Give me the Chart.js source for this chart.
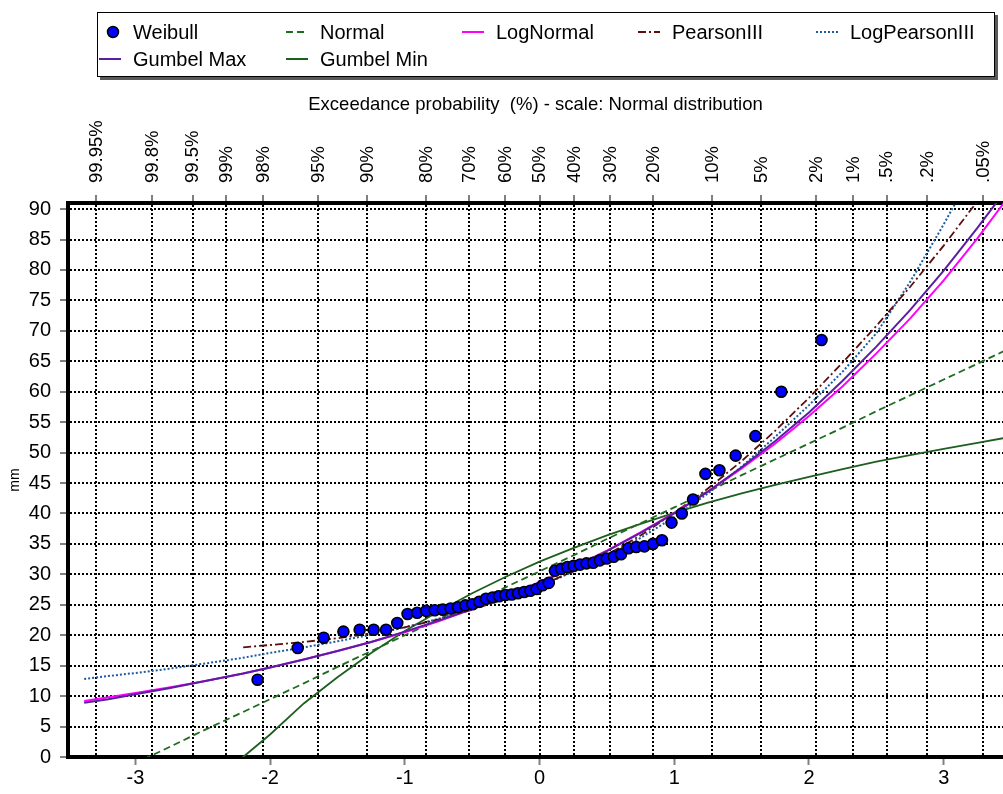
<!DOCTYPE html>
<html>
<head>
<meta charset="utf-8">
<script src="https://cdn.jsdelivr.net/npm/chart.js@4.4.0/dist/chart.umd.min.js"></script>
<style>
  html, body { margin: 0; padding: 0; background: #fff; }
  #chart { display: block; }
</style>
</head>
<body>
<canvas id="chart" width="1003" height="794"></canvas>
<script>
// observed values (mm), sorted; plotted at Weibull positions i/(n+1)
const weibullMm = [
  12.7, 17.9, 19.6, 20.6, 20.9, 20.9, 20.9, 22.0, 23.5, 23.7,
  24.0, 24.1, 24.2, 24.4, 24.6, 24.9, 25.1, 25.5, 26.0, 26.2,
  26.4, 26.6, 26.7, 26.9, 27.1, 27.3, 27.6, 28.2, 28.6, 30.6,
  30.9, 31.2, 31.4, 31.6, 31.8, 31.9, 32.3, 32.6, 32.9, 33.3,
  34.3, 34.5, 34.6, 35.0, 35.6, 38.5, 40.0, 42.3, 46.5, 47.1,
  49.5, 52.7, 60.0, 68.5
];

// fitted curves at these standard normal quantiles
const curveZ = [-3.38, -3.2, -3.0, -2.75, -2.5, -2.2, -2.0, -1.75, -1.5, -1.25, -1.0, -0.75, -0.5, -0.25,
  0, 0.25, 0.5, 0.75, 1.0, 1.25, 1.5, 1.75, 2.0, 2.25, 2.5, 2.75, 3.0, 3.25, 3.45];
const normalMm = [-5.0, -3.1, -1.0, 1.6, 4.3, 7.4, 9.5, 12.1, 14.8, 17.4, 20.0, 22.6, 25.3, 27.9,
  30.5, 33.1, 35.8, 38.4, 41.0, 43.6, 46.3, 48.9, 51.5, 54.1, 56.8, 59.4, 62.0, 64.6, 66.7];
const logNormalMm = [9.2, 9.8, 10.5, 11.4, 12.4, 13.7, 14.7, 16.0, 17.4, 18.9, 20.5, 22.3, 24.3, 26.4,
  28.7, 31.2, 33.9, 36.9, 40.1, 43.6, 47.4, 51.5, 56.0, 60.9, 66.3, 72.0, 78.3, 85.2, 91.1];
const pearson3Mm = [null, null, null, null, null, 18.0, 18.4, 18.9, 19.5, 20.3, 21.3, 22.6, 24.2, 26.0,
  28.1, 30.5, 33.2, 36.4, 40.1, 44.1, 48.6, 53.6, 59.0, 64.8, 70.8, 77.2, 84.0, 91.3, 97.5];
const logPearson3Mm = [12.8, 13.3, 13.8, 14.5, 15.3, 16.3, 17.1, 18.0, 19.0, 20.1, 21.3, 22.7, 24.3, 26.1,
  28.1, 30.4, 33.0, 36.0, 39.4, 43.3, 47.7, 52.6, 57.8, 63.3, 69.6, 78.0, 87.5, 97.5, 106.0];
const gumbelMaxMm = [8.9, 9.5, 10.3, 11.3, 12.4, 13.7, 14.7, 16.0, 17.4, 18.9, 20.6, 22.4, 24.3, 26.4,
  28.6, 31.1, 33.8, 36.8, 40.0, 43.6, 47.6, 51.9, 56.6, 61.8, 67.4, 73.4, 79.9, 86.9, 92.8];
const gumbelMinMm = [null, null, null, null, -6.6, 0.0, 3.7, 8.8, 13.1, 17.1, 20.7, 23.9, 26.9, 29.6,
  32.1, 34.3, 36.4, 38.3, 40.1, 41.8, 43.3, 44.7, 46.0, 47.3, 48.5, 49.6, 50.6, 51.6, 52.4];

// axes
const probTicks = [99.95, 99.8, 99.5, 99, 98, 95, 90, 80, 70, 60, 50, 40, 30, 20, 10, 5, 2, 1, 0.5, 0.2, 0.05];
const probLabels = ['99.95%', '99.8%', '99.5%', '99%', '98%', '95%', '90%', '80%', '70%', '60%', '50%',
  '40%', '30%', '20%', '10%', '5%', '2%', '1%', '.5%', '.2%', '.05%'];
const zTicks = [-3, -2, -1, 0, 1, 2, 3];
const mmTicks = [0, 2.5, 5, 7.5, 10, 12.5, 15, 17.5, 20, 22.5, 25, 27.5, 30, 32.5, 35, 37.5, 40, 42.5,
  45, 47.5, 50, 52.5, 55, 57.5, 60, 62.5, 65, 67.5, 70, 72.5, 75, 77.5, 80, 82.5, 85, 87.5, 90];

// inverse of the standard normal cdf (Acklam)
function normInv(p) {
  const a = [-39.69683028665376, 220.9460984245205, -275.9285104469687, 138.3577518672690, -30.66479806614716, 2.506628277459239];
  const b = [-54.47609879822406, 161.5858368580409, -155.6989798598866, 66.80131188771972, -13.28068155288572];
  const c = [-0.007784894002430293, -0.3223964580411365, -2.400758277161838, -2.549732539343734, 4.374664141464968, 2.938163982698783];
  const d = [0.007784695709041462, 0.3224671290700398, 2.445134137142996, 3.754408661907416];
  const pl = 0.02425;
  let q, r;
  if (p < pl) {
    q = Math.sqrt(-2 * Math.log(p));
    return (((((c[0] * q + c[1]) * q + c[2]) * q + c[3]) * q + c[4]) * q + c[5]) / ((((d[0] * q + d[1]) * q + d[2]) * q + d[3]) * q + 1);
  }
  if (p > 1 - pl) {
    q = Math.sqrt(-2 * Math.log(1 - p));
    return -(((((c[0] * q + c[1]) * q + c[2]) * q + c[3]) * q + c[4]) * q + c[5]) / ((((d[0] * q + d[1]) * q + d[2]) * q + d[3]) * q + 1);
  }
  q = p - 0.5;
  r = q * q;
  return (((((a[0] * r + a[1]) * r + a[2]) * r + a[3]) * r + a[4]) * r + a[5]) * q / (((((b[0] * r + b[1]) * r + b[2]) * r + b[3]) * r + b[4]) * r + 1);
}

const FONT = "'Liberation Sans', Arial, sans-serif";
Chart.defaults.font.family = FONT;
Chart.defaults.font.size = 20;
Chart.defaults.color = '#000';

const n = weibullMm.length;
const weibullPts = weibullMm.map((v, i) => ({ x: normInv((i + 1) / (n + 1)), y: v }));
const curve = arr => curveZ.map((z, i) => ({ x: z, y: arr[i] }));

const lineDs = (label, arr, color, dash, width, order) => ({
  label, data: curve(arr), borderColor: color, backgroundColor: color, borderDash: dash,
  borderWidth: width, pointRadius: 0, tension: 0, order
});

const datasets = [
  {
    label: 'Weibull', data: weibullPts, showLine: false, pointRadius: 5.5, pointHoverRadius: 5.5,
    pointBackgroundColor: '#0000ff', pointBorderColor: '#000', pointBorderWidth: 1.6,
    borderColor: '#000', backgroundColor: '#0000ff', order: 0
  },
  lineDs('Normal', normalMm, '#1f6b1f', [7, 4], 1.8, 4),
  lineDs('LogNormal', logNormalMm, '#ff00ff', [], 2, 2),
  lineDs('PearsonIII', pearson3Mm, '#5c0d0d', [8, 3, 2, 3], 1.8, 3),
  lineDs('LogPearsonIII', logPearson3Mm, '#1f5c9c', [2, 2], 2, 3),
  lineDs('Gumbel Max', gumbelMaxMm, '#5a1fa0', [], 2, 1),
  lineDs('Gumbel Min', gumbelMinMm, '#1e5e1e', [], 1.8, 4)
];

// boxed legend above the chart, two rows like the original program
const boxLegend = {
  id: 'boxLegend',
  afterDraw(chart) {
    const ctx = chart.ctx;
    const cols = [133, 320, 496, 672, 850];
    const rows = [32, 59];
    ctx.save();
    ctx.fillStyle = '#5a5a5a';
    ctx.fillRect(100, 15, 898, 65);
    ctx.fillStyle = '#fff';
    ctx.fillRect(97, 12, 898, 65);
    ctx.strokeStyle = '#000';
    ctx.lineWidth = 1;
    ctx.strokeRect(97.5, 12.5, 897, 64);
    ctx.font = '20px ' + FONT;
    ctx.textBaseline = 'middle';
    ctx.textAlign = 'left';
    chart.data.datasets.forEach((ds, i) => {
      const tx = cols[i % 5];
      const ty = rows[i < 5 ? 0 : 1];
      if (ds.showLine === false) {
        ctx.beginPath();
        ctx.arc(tx - 20, ty, 5.5, 0, Math.PI * 2);
        ctx.fillStyle = ds.pointBackgroundColor;
        ctx.fill();
        ctx.lineWidth = 1.5;
        ctx.strokeStyle = ds.pointBorderColor;
        ctx.stroke();
      } else {
        ctx.beginPath();
        ctx.setLineDash(ds.borderDash);
        ctx.strokeStyle = ds.borderColor;
        ctx.lineWidth = 2;
        ctx.moveTo(tx - 34, ty);
        ctx.lineTo(tx - 12, ty);
        ctx.stroke();
        ctx.setLineDash([]);
      }
      ctx.fillStyle = '#000';
      ctx.fillText(ds.label, tx, ty + 1);
    });
    ctx.restore();
  }
};

const isMajor = c => c.tick && c.tick.value % 5 === 0;
const noPad = s => { s.paddingLeft = 0; s.paddingRight = 0; s.paddingTop = 0; s.paddingBottom = 0; };

new Chart(document.getElementById('chart'), {
  type: 'line',
  data: { datasets },
  options: {
    responsive: false,
    animation: false,
    events: [],
    layout: { autoPadding: false, padding: { top: 85, left: 0, right: 0, bottom: 0 } },
    plugins: { legend: { display: false }, tooltip: { enabled: false } },
    scales: {
      x: {
        type: 'linear', position: 'bottom', min: -3.5, max: 3.44,
        afterBuildTicks: s => { s.ticks = zTicks.map(v => ({ value: v })); },
        afterFit: s => { s.height = 37; noPad(s); },
        grid: { drawOnChartArea: false, drawTicks: true, tickLength: 8, tickColor: '#808080', tickWidth: 2 },
        border: { color: '#000', width: 4 },
        ticks: { padding: 1, maxRotation: 0, callback: v => String(v) }
      },
      xTop: {
        type: 'linear', position: 'top', min: -3.5, max: 3.44,
        afterBuildTicks: s => { s.ticks = probTicks.map(p => ({ value: normInv(1 - p / 100) })); },
        afterFit: s => { s.height = 118; noPad(s); },
        grid: { color: '#000', lineWidth: 2, tickLength: 8, tickColor: '#808080', tickWidth: 2, tickBorderDash: [] },
        border: { color: '#000', width: 4, dash: c => c.tick ? [2, 2] : [] },
        ticks: {
          autoSkip: false, minRotation: 90, maxRotation: 90, padding: 12, labelOffset: 23,
          font: { size: 18.5 }, callback: (v, i) => probLabels[i]
        },
        title: {
          display: true, text: 'Exceedance probability  (%) - scale: Normal distribution',
          font: { size: 18.5 }, padding: { top: 9, bottom: 0 }
        }
      },
      y: {
        type: 'linear', position: 'left', min: 0, max: 91,
        afterBuildTicks: s => { s.ticks = mmTicks.map(v => ({ value: v })); },
        afterFit: s => { s.width = 68; noPad(s); },
        grid: {
          color: c => isMajor(c) ? '#000' : '#a8a8a8',
          lineWidth: c => isMajor(c) ? 2 : 1,
          tickLength: 8, tickColor: '#808080', tickWidth: 2, tickBorderDash: []
        },
        border: { color: '#000', width: 4, dash: c => isMajor(c) ? [2, 2] : [] },
        ticks: { padding: 9, callback: v => v % 5 === 0 ? String(v) : '' },
        title: { display: true, text: 'mm', font: { size: 14 }, padding: { top: 7, bottom: 0 } }
      }
    }
  },
  plugins: [boxLegend]
});
</script>
</body>
</html>
